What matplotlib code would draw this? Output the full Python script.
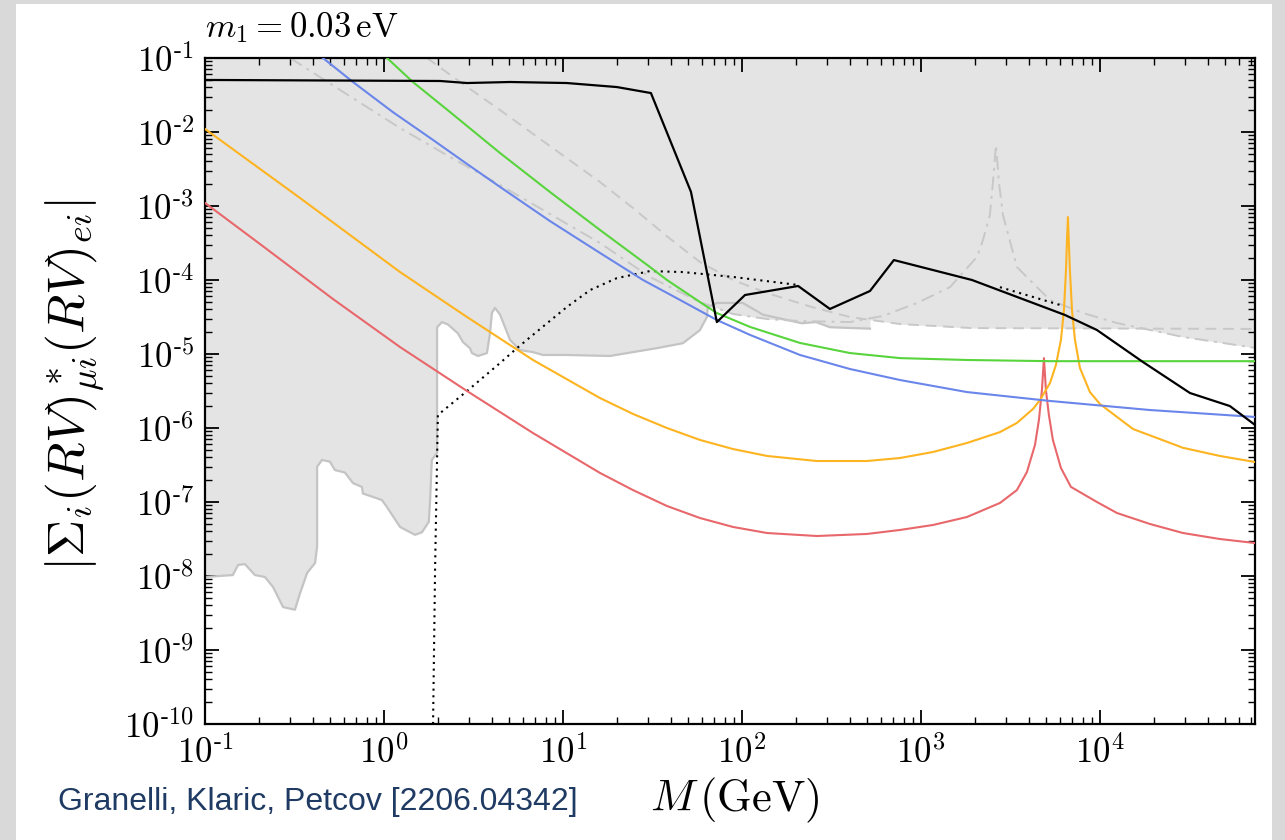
import matplotlib
matplotlib.use('Agg')
import matplotlib.pyplot as plt
from matplotlib.patches import Rectangle
from matplotlib.ticker import LogLocator, NullFormatter, FixedLocator, FixedFormatter

plt.rcParams['mathtext.fontset'] = 'cm'
plt.rcParams['font.family'] = ['DejaVu Serif']

# ---------------- data (M in GeV, y = |Sum_i (RV)*_mu i (RV)_ei|) ----------------
red_M = [0.1, 0.203, 0.519, 1.23, 2.91, 6.80, 16.1, 24.6, 38.1, 58.2, 89.1, 138, 262, 499, 764,
         1167, 1807, 2762, 3436, 3908, 4335, 4560, 4742, 4866, 4990, 5185, 5460, 6055, 6885,
         9620, 12450, 19000, 29100, 46800, 73500]
red_y = [1.10e-3, 3.06e-4, 5.53e-5, 1.24e-5, 3.16e-6, 8.55e-7, 2.47e-7, 1.45e-7, 8.83e-8, 6.08e-8,
         4.6e-8, 3.81e-8, 3.47e-8, 3.7e-8, 4.19e-8, 4.89e-8, 6.27e-8, 9.7e-8, 1.45e-7, 2.54e-7,
         5.89e-7, 1.28e-6, 3.27e-6, 8.8e-6, 3.27e-6, 1.5e-6, 6.89e-7, 2.88e-7, 1.6e-7, 1.0e-7,
         7.1e-8, 5.05e-8, 3.81e-8, 3.16e-8, 2.79e-8]

orange_M = [0.1, 0.340, 1.23, 2.91, 6.80, 16.1, 24.6, 38.1, 58.2, 89.1, 138, 262, 499, 764, 1167,
            1807, 2762, 3436, 4227, 4625, 5260, 5675, 6055, 6295, 6460, 6545, 6625, 6710, 6795,
            6980, 7250, 7730, 8790, 10000, 15290, 29100, 46800, 73500]
orange_y = [1.10e-2, 1.28e-3, 1.28e-4, 3.16e-5, 8.3e-6, 2.54e-6, 1.55e-6, 1.0e-6, 6.9e-7, 5.2e-7,
            4.19e-7, 3.58e-7, 3.58e-7, 3.93e-7, 4.74e-7, 6.27e-7, 8.8e-7, 1.17e-6, 1.81e-6, 2.39e-6,
            4.06e-6, 7.1e-6, 1.55e-5, 3.93e-5, 1.36e-4, 3.47e-4, 7.1e-4, 3.0e-4, 1.36e-4, 3.93e-5,
            1.55e-5, 6.47e-6, 3.06e-6, 2.11e-6, 9.7e-7, 5.4e-7, 4.19e-7, 3.47e-7]

green_M = [1.04, 1.45, 2.34, 4.45, 8.45, 16.1, 30.6, 38.1, 58.2, 72.4, 111, 211, 401, 764, 1807,
           5260, 73500]
green_y = [1.0e-1, 4.74e-2, 1.86e-2, 5.2e-3, 1.55e-3, 4.74e-4, 1.5e-4, 1.0e-4, 5.04e-5, 3.58e-5,
           2.32e-5, 1.41e-5, 1.03e-5, 8.8e-6, 8.3e-6, 8.0e-6, 8.0e-6]

blue_M = [0.456, 0.671, 1.12, 1.88, 2.91, 4.45, 8.45, 16.1, 28.0, 45.1, 72.4, 111, 211, 401, 764,
          1807, 5260, 19000, 73500]
blue_y = [1.0e-1, 4.74e-2, 1.86e-2, 7.8e-3, 3.7e-3, 1.81e-3, 6.27e-4, 2.32e-4, 1.0e-4, 5.37e-5,
          2.88e-5, 1.81e-5, 9.7e-6, 6.27e-6, 4.45e-6, 3.06e-6, 2.32e-6, 1.75e-6, 1.41e-6]

black_M = [0.1, 2.06, 2.91, 5.06, 10.5, 20.0, 31.0, 51.9, 72.4, 104, 206, 310, 519, 706,
           1928, 6370, 9620, 17380, 31840, 53200, 73500]
black_y = [5.05e-2, 4.89e-2, 4.59e-2, 4.74e-2, 4.59e-2, 4.05e-2, 3.36e-2, 1.55e-3, 2.7e-5,
           6.27e-5, 8.3e-5, 4.06e-5, 7.1e-5, 1.86e-4, 1.0e-4, 3.37e-5, 2.11e-5, 7.8e-6,
           2.97e-6, 1.98e-6, 1.1e-6]

dotted_M = [1.88, 1.93, 2.0, 2.91, 4.45, 5.53, 7.45, 10.5, 14.2, 20.0, 30.6, 46.8, 89.1, 203]
dotted_y = [1e-10, 1.3e-8, 1.5e-6, 3.16e-6, 7.55e-6, 1.2e-5, 2.18e-5, 4.31e-5, 7.33e-5, 1.06e-4,
            1.32e-4, 1.28e-4, 1.1e-4, 8.6e-5]
dotted2_M = [2762, 5980]
dotted2_y = [8.0e-5, 4.6e-5]

dashed_M = [1.74, 2.66, 4.45, 8.45, 16.1, 24.6, 38.1, 58.2, 89.1, 138, 246, 401, 764, 1928, 73500]
dashed_y = [1.0e-1, 4.74e-2, 1.98e-2, 6.47e-3, 2.11e-3, 9.4e-4, 3.9e-4, 1.75e-4, 1.0e-4, 6.67e-5,
            4.31e-5, 3.16e-5, 2.54e-5, 2.24e-5, 2.18e-5]

dashdot_M = [0.299, 0.605, 1.23, 2.34, 4.45, 8.45, 16.1, 30.6, 58.2, 89.1, 138, 211, 401, 614,
             950, 1452, 2056, 2220, 2427, 2523, 2624, 2729, 2871, 3436, 4446, 5260, 8040, 12450,
             29100, 73500]
dashdot_y = [1.0e-1, 3.36e-2, 1.13e-2, 4.59e-3, 1.92e-3, 7.8e-4, 3.16e-4, 1.10e-4, 5.04e-5, 3.47e-5,
             2.97e-5, 2.79e-5, 2.70e-5, 3.27e-5, 4.89e-5, 8.0e-5, 2.05e-4, 3.47e-4, 7.55e-4,
             2.05e-3, 6.67e-3, 2.05e-3, 7.55e-4, 1.50e-4, 8.0e-5, 5.37e-5, 3.58e-5, 2.62e-5,
             1.70e-5, 1.21e-5]

excl_M = [0.1, 0.143, 0.153, 0.167, 0.190, 0.216, 0.240, 0.273, 0.318, 0.340, 0.372, 0.412,
          0.423, 0.423, 0.451, 0.499, 0.532, 0.605, 0.671, 0.753, 0.763, 0.869, 0.975, 1.04,
          1.23, 1.49, 1.63, 1.78, 1.81, 1.85, 1.98, 1.98, 2.11, 2.28, 2.59, 2.76, 3.02, 3.10,
          3.35, 3.76, 3.91, 4.01, 4.17, 4.45, 5.06, 5.75, 6.80, 7.73, 10.5, 18.3, 24.6, 33.5,
          46.8, 58.2, 63.7, 64.5, 72.4, 101, 131, 216, 259, 310, 519]
excl_y = [9.7e-9, 1.03e-8, 1.41e-8, 1.45e-8, 1.03e-8, 9.7e-9, 7.1e-9, 3.8e-9, 3.5e-9, 5.9e-9,
          1.1e-8, 1.5e-8, 2.5e-8, 3.0e-7, 3.7e-7, 3.5e-7, 2.7e-7, 2.5e-7, 1.8e-7, 1.6e-7, 1.3e-7,
          1.17e-7, 1.06e-7, 8.5e-8, 4.6e-8, 3.6e-8, 3.9e-8, 5.4e-8, 1.06e-7, 3.7e-7, 4.6e-7,
          2.3e-5, 2.7e-5, 2.5e-5, 1.9e-5, 1.45e-5, 1.2e-5, 1.03e-5, 9.4e-6, 1.03e-5, 1.9e-5,
          3.6e-5, 4.2e-5, 3.4e-5, 1.55e-5, 1.13e-5, 1.06e-5, 9.7e-6, 9.7e-6, 9.4e-6, 1.06e-5,
          1.2e-5, 1.4e-5, 2.1e-5, 3.16e-5, 4.3e-5, 4.9e-5, 4.9e-5, 3.4e-5, 2.6e-5, 2.7e-5,
          2.3e-5, 2.2e-5]

xtick_vals = [1e-1, 1e0, 1e1, 1e2, 1e3, 1e4]
xtick_labels = [r'$10^{\text{-}1}$', r'$10^{0}$', r'$10^{1}$', r'$10^{2}$', r'$10^{3}$', r'$10^{4}$']
ytick_vals = [1e-10, 1e-9, 1e-8, 1e-7, 1e-6, 1e-5, 1e-4, 1e-3, 1e-2, 1e-1]
ytick_labels = [r'$10^{\text{-}10}$', r'$10^{\text{-}9}$', r'$10^{\text{-}8}$', r'$10^{\text{-}7}$',
                r'$10^{\text{-}6}$', r'$10^{\text{-}5}$', r'$10^{\text{-}4}$', r'$10^{\text{-}3}$',
                r'$10^{\text{-}2}$', r'$10^{\text{-}1}$']

# ---------------- figure ----------------
W, H = 1285, 840
fig = plt.figure(figsize=(W / 100, H / 100), dpi=100, facecolor='#d9d9d9')
fig.patches.append(Rectangle((16 / W, 0), (1272 - 16) / W, 1 - 4 / H, transform=fig.transFigure,
                             facecolor='white', edgecolor='none', zorder=-10))

ax = fig.add_axes([205 / W, 1 - 724 / H, 1050 / W, 666 / H])
ax.set_facecolor('white')
ax.set_xscale('log')
ax.set_yscale('log')
ax.set_xlim(0.1, 7.35e4)
ax.set_ylim(1e-10, 1e-1)

gray_fill = '#e4e4e4'
ax.fill_between(excl_M, excl_y, 1, color=gray_fill, lw=0, zorder=1)
ax.fill_between(dashed_M, dashed_y, 1, color=gray_fill, lw=0, zorder=1)
ax.fill_between(dashdot_M, dashdot_y, 1, color=gray_fill, lw=0, zorder=1)
ax.plot(excl_M, excl_y, color='#c4c4c4', lw=1.6, zorder=2)
ax.plot(dashed_M, dashed_y, color='#c8c8c8', lw=1.4, ls=(0, (5.5, 3.5)), zorder=2)
ax.plot(dashdot_M, dashdot_y, color='#c8c8c8', lw=1.4, ls=(0, (7, 3, 1.5, 3)), zorder=2)

ax.plot(dotted_M, dotted_y, color='black', lw=1.5, ls=(0, (1, 2.2)), zorder=3)
ax.plot(dotted2_M, dotted2_y, color='black', lw=1.5, ls=(0, (1, 2.2)), zorder=3)

ax.plot(red_M, red_y, color='#e8676b', lw=1.5, zorder=4)
ax.plot(orange_M, orange_y, color='#fdb420', lw=1.5, zorder=4)
ax.plot(green_M, green_y, color='#58d43c', lw=1.5, zorder=4)
ax.plot(blue_M, blue_y, color='#6a86ea', lw=1.5, zorder=4)
ax.plot(black_M, black_y, color='black', lw=1.6, zorder=5)

ax.xaxis.set_major_locator(FixedLocator(xtick_vals))
ax.xaxis.set_major_formatter(FixedFormatter(xtick_labels))
ax.yaxis.set_major_locator(FixedLocator(ytick_vals))
ax.yaxis.set_major_formatter(FixedFormatter(ytick_labels))
ax.xaxis.set_minor_locator(LogLocator(base=10, subs=range(2, 10), numticks=50))
ax.yaxis.set_minor_locator(LogLocator(base=10, subs=range(2, 10), numticks=50))
ax.xaxis.set_minor_formatter(NullFormatter())
ax.yaxis.set_minor_formatter(NullFormatter())
ax.tick_params(which='both', direction='in', top=True, right=True, labelsize=25)
ax.tick_params(which='major', length=10, width=1.3, pad=8)
ax.tick_params(which='minor', length=5, width=1.0)
for s in ax.spines.values():
    s.set_linewidth(1.6)

fig.text(205 / W, 1 - 28 / H, r'$m_1 = 0.03\,\mathrm{eV}$', fontsize=25, ha='left', va='center')
fig.text(75 / W, 1 - 385 / H, r'$|\Sigma_i(RV)^*_{\mu i}(RV)_{ei}|$', fontsize=37,
         rotation=90, ha='center', va='center')
fig.text(735 / W, 1 - 800 / H, r'$M\,(\mathrm{GeV})$', fontsize=32, ha='center', va='center')
fig.text(58 / W, 1 - 802 / H, 'Granelli, Klaric, Petcov [2206.04342]', fontsize=23,
         family=['Liberation Sans', 'DejaVu Sans'], color='#1f3b63', ha='left', va='center')

fig.savefig('out.png', dpi=100, facecolor=fig.get_facecolor())
